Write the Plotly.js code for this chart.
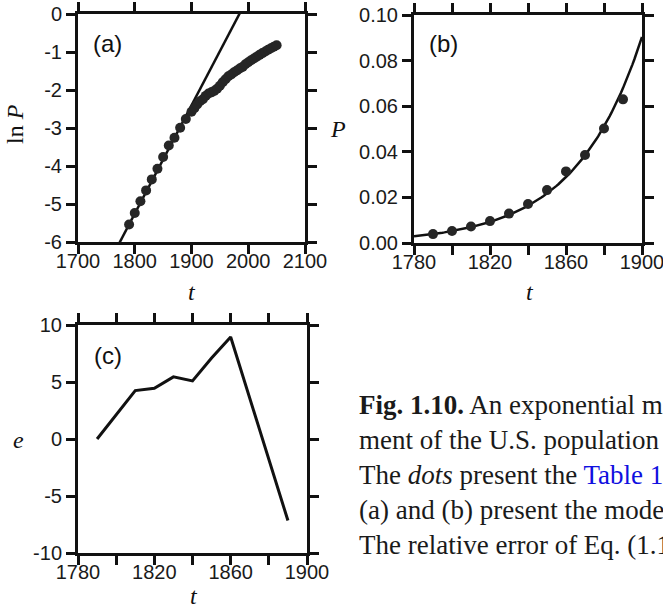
<!DOCTYPE html>
<html>
<head>
<meta charset="utf-8">
<script src="https://cdn.plot.ly/plotly-3.0.1.min.js"></script>
<style>html,body{margin:0;padding:0;background:#fff;}#chart{width:663px;height:612px;}</style>
</head>
<body>
<div id="chart"></div>
<script>
// ---- Data ----
// Panel (a): U.S. population (millions), census 1790-1890 every 10 years, then 5-year steps to 2050
const yearsA = [1790,1800,1810,1820,1830,1840,1850,1860,1870,1880,1890,
  1900,1905,1910,1915,1920,1925,1930,1935,1940,1945,1950,1955,1960,1965,1970,1975,
  1980,1985,1990,1995,2000,2005,2010,2015,2020,2025,2030,2035,2040,2045,2050];
const popA = [3.93,5.31,7.24,9.64,12.87,17.07,23.19,31.44,38.56,50.19,62.98,
  76.21,83.82,92.23,100.55,106.02,115.83,123.20,127.25,132.16,139.93,151.33,165.93,179.32,194.30,203.30,215.97,
  226.54,237.92,248.71,266.28,281.42,295.52,310.2,325.5,341.4,357.5,373.5,389.5,405.7,422.1,439.0];

// Panel (b): P (billions), 1790-1890
const yearsB = [1790,1800,1810,1820,1830,1840,1850,1860,1870,1880,1890];
const popB = [0.0039,0.0053,0.0072,0.0096,0.0129,0.0171,0.0232,0.0314,0.0386,0.0502,0.0630];

// Panel (c): relative error e (%)
const yearsC = [1790,1800,1810,1820,1830,1840,1850,1860,1870,1880,1890];
const errC = [0.0,2.1,4.25,4.45,5.45,5.1,7.1,8.95,3.6,-1.8,-7.15];

// Exponential model parameters P(t) = P0 * exp(r (t - t0))
const modelP0 = 0.00393, modelR = 0.0285, modelT0 = 1790;

// Tick labels
const tickA_x = [1700,1800,1900,2000,2100];
const tickA_y = [-6,-5,-4,-3,-2,-1,0];
const tickA_ytext = ['-6','-5','-4','-3','-2','-1','0'];
const tickBC_x = [1780,1800,1820,1840,1860,1880,1900];
const tickBC_xtext = ['1780','','1820','','1860','','1900'];
const tickB_y = [0,0.02,0.04,0.06,0.08,0.10];
const tickB_ytext = ['0.00','0.02','0.04','0.06','0.08','0.10'];
const tickC_y = [-10,-5,0,5,10];
const tickC_ytext = ['-10','-5','0','5','10'];

// ---- derived ----
const lnPA = popA.map(v => Math.log(v/1000));
const modelTA = [], modelLnA = [];
for (let t = 1760; t <= 2000; t += 1) { modelTA.push(t); modelLnA.push(Math.log(modelP0) + modelR*(t-modelT0)); }
const modelTB = [], modelPB = [];
for (let t = 1780; t <= 1900; t += 1) { modelTB.push(t); modelPB.push(modelP0*Math.exp(modelR*(t-modelT0))); }

const W = 663, H = 612;
const px = v => v / W;
const py = v => 1 - v / H;

const tickFont = {family: '"Liberation Sans Narrow", "Arial Narrow", "Liberation Sans", Arial, sans-serif', size: 20, color: '#1a1a1a'};
const serif = '"Liberation Serif", "Times New Roman", Times, serif';
const sans = '"Liberation Sans", Arial, sans-serif';

function axis(extra) {
  return Object.assign({
    showline: true, linewidth: 3, linecolor: '#111', mirror: 'ticks',
    ticks: 'outside', ticklen: 9, tickwidth: 3, tickcolor: '#111',
    showgrid: false, zeroline: false, tickfont: tickFont, fixedrange: true,
    ticklabeloverflow: 'allow'
  }, extra);
}

const dotColor = '#262626';
const traces = [
  {x: modelTA, y: modelLnA, xaxis: 'x', yaxis: 'y', mode: 'lines', line: {color: '#111', width: 2.5}, hoverinfo: 'skip'},
  {x: yearsA, y: lnPA, xaxis: 'x', yaxis: 'y', mode: 'markers', marker: {size: 10, color: dotColor}, cliponaxis: false},
  {x: modelTB, y: modelPB, xaxis: 'x2', yaxis: 'y2', mode: 'lines', line: {color: '#111', width: 2.5}},
  {x: yearsB, y: popB, xaxis: 'x2', yaxis: 'y2', mode: 'markers', marker: {size: 10, color: dotColor}},
  {x: yearsC, y: errC, xaxis: 'x3', yaxis: 'y3', mode: 'lines', line: {color: '#111', width: 3}}
];

function lab(text, x, y, size, family, extra) {
  return Object.assign({text: text, x: px(x), y: py(y), xref: 'paper', yref: 'paper', showarrow: false,
    xanchor: 'center', yanchor: 'middle', font: {family: family, size: size, color: '#111'}}, extra || {});
}

const layout = {
  width: W, height: H,
  margin: {l: 0, r: 0, t: 0, b: 0},
  paper_bgcolor: '#fff', plot_bgcolor: '#fff',
  showlegend: false,
  xaxis: axis({domain: [px(78), px(305)], range: [1700, 2100], tickvals: tickA_x, anchor: 'y', ticklabelstandoff: -10}),
  yaxis: axis({domain: [py(242), py(14)], range: [-6, 0], tickvals: tickA_y, ticktext: tickA_ytext, anchor: 'x'}),
  xaxis2: axis({domain: [px(414), px(642)], range: [1780, 1900], tickvals: tickBC_x, ticktext: tickBC_xtext, anchor: 'y2', ticklabelstandoff: -10}),
  yaxis2: axis({domain: [py(243), py(15)], range: [0, 0.10], tickvals: tickB_y, ticktext: tickB_ytext, anchor: 'x2'}),
  xaxis3: axis({domain: [px(78), px(307)], range: [1780, 1900], tickvals: tickBC_x, ticktext: tickBC_xtext, anchor: 'y3', ticklabelstandoff: -10}),
  yaxis3: axis({domain: [py(553), py(325)], range: [-10, 10], tickvals: tickC_y, ticktext: tickC_ytext, anchor: 'x3'}),
  annotations: [
    lab('(a)', 107, 44, 24, sans),
    lab('(b)', 443, 44, 24, sans),
    lab('(c)', 108, 355, 24, sans),
    lab('ln <i>P</i>', 15, 124, 24, serif, {textangle: -90}),
    lab('<i>t</i>', 192, 292, 24, serif),
    lab('<i>P</i>', 338, 129, 24, serif),
    lab('<i>t</i>', 530, 292, 24, serif),
    lab('<i>e</i>', 18, 440, 24, serif),
    lab('<i>t</i>', 194, 596, 24, serif),
    {text: '<b>Fig. 1.10.</b> An exponential model for the develop-<br>ment of the U.S. population in 1790–1890.<br>The <i>dots</i> present the <span style="color:#1010e0">Table 1.1</span> data; the <i>lines</i> in<br>(a) and (b) present the model of Eq. (1.1).<br>The relative error of Eq. (1.1) is shown in (c).',
     x: px(357), y: py(388), xref: 'paper', yref: 'paper', xanchor: 'left', yanchor: 'top', align: 'left', showarrow: false,
     font: {family: serif, size: 27, color: '#1a1a1a'}}
  ]
};

Plotly.newPlot('chart', traces, layout, {staticPlot: true, displayModeBar: false});
</script>
</body>
</html>
